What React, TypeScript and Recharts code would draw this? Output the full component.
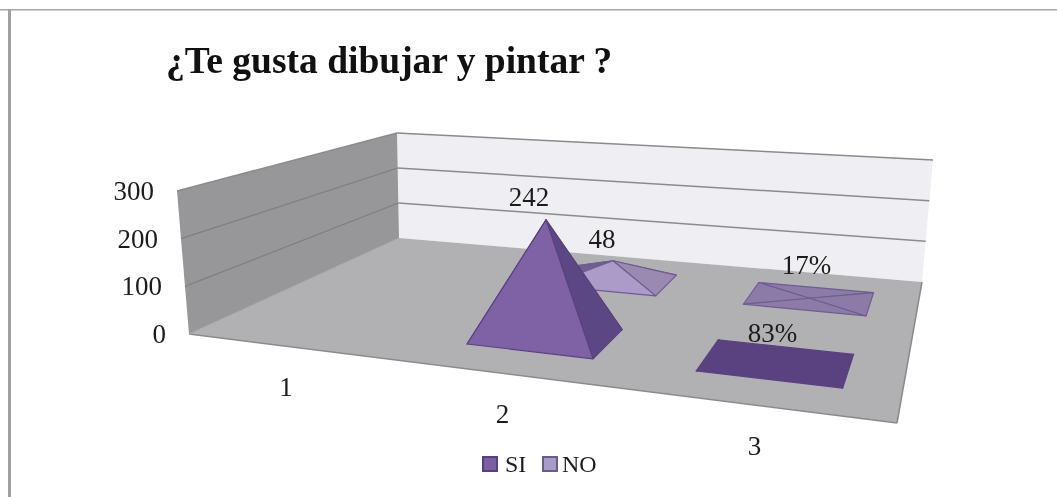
import React from "react";
import { ComposedChart, Bar, XAxis, YAxis, Legend, Customized } from "recharts";

const categories = ["1", "2", "3"];
const siValues = [null, 242, 0.83];
const noValues = [null, 48, 0.17];
const yTicks = [0, 100, 200, 300];
const titleText = "¿Te gusta dibujar y pintar ?";
const siName = "SI";
const noName = "NO";

const rows = categories.map((c, i) => ({ cat: c, si: siValues[i], no: noValues[i] }));

// layout of the pseudo 3D box
const W = 1057, H = 497;
const L = 189, PW = 708, TOP = 191, PH = 143;
const FL = [189, 334], FR = [897, 423], BR = [922, 282], BL = [399, 238];
const TL = [177, 191], TB = [397, 133], TR = [933, 160];
const FONT = "'Liberation Serif', serif";
const INK = "#1c1c1c";

// unit square -> floor quad (perspective)
const sq = (() => {
  const [x0, y0] = FL, [x1, y1] = FR, [x2, y2] = BR, [x3, y3] = BL;
  const dx1 = x1 - x2, dx2 = x3 - x2, sx = x0 - x1 + x2 - x3;
  const dy1 = y1 - y2, dy2 = y3 - y2, sy = y0 - y1 + y2 - y3;
  const den = dx1 * dy2 - dx2 * dy1;
  const g = (sx * dy2 - dx2 * sy) / den, h = (dx1 * sy - sx * dy1) / den;
  return { a: x1 - x0 + g * x1, b: x3 - x0 + h * x3, c: x0, d: y1 - y0 + g * y1, e: y3 - y0 + h * y3, f: y0, g, h };
})();
const weight = (u: number, v: number) => sq.g * u + sq.h * v + 1;
const project = (u: number, v: number) => {
  const w = weight(u, v);
  return [(sq.a * u + sq.b * v + sq.c) / w, (sq.d * u + sq.e * v + sq.f) / w];
};
const DV = 0.105;
const pts = (list: number[][]) => list.map((p) => p.join(",")).join(" ");
const mix = (a: number[], b: number[], t: number) => [a[0] + (b[0] - a[0]) * t, a[1] + (b[1] - a[1]) * t];

function pyramid(depth: number, colors: any) {
  return (props: any) => {
    const { x, width, height } = props;
    if (!height && height !== 0) return <g />;
    const u = (x + width / 2 - L) / PW;
    const du = width / 2 / PW;
    const fl = project(u - du, depth - DV), fr = project(u + du, depth - DV);
    const br = project(u + du, depth + DV), bl = project(u - du, depth + DV);
    const c = project(u, depth);
    const h = height / weight(u, depth);
    const apex = [c[0], c[1] - h];
    const flat = h < 3;
    const f = (col: string) => (flat ? colors.flat : col);
    const common = { stroke: colors.edge, strokeWidth: 1.2, strokeLinejoin: "round" as const };
    return (
      <g>
        <polygon points={pts([bl, br, apex])} fill={f(colors.left)} {...common} />
        <polygon points={pts([fl, bl, apex])} fill={f(colors.left)} {...common} />
        <polygon points={pts([fr, br, apex])} fill={f(colors.right)} {...common} />
        <polygon points={pts([fl, fr, apex])} fill={f(colors.front)} {...common} />
      </g>
    );
  };
}

const siColors = { front: "#7F61A6", right: "#5B4783", left: "#5B4783", flat: "#5A4280", edge: "#5A4280" };
const noColors = { front: "#AB9BC8", right: "#9A89B0", left: "#6F5E90", flat: "#8C7BA6", edge: "#6E5D92" };

const labelNudge: Record<string, number[][]> = {
  si: [[0, 0], [-17, -23], [-4, -29]],
  no: [[0, 0], [-11, -22], [-3, -33]],
};
const fmt = (v: number) => (v < 1 ? `${Math.round(v * 100)}%` : `${v}`);

function dataLabel(depth: number, key: string) {
  return (props: any) => {
    const { x, width, height, value } = props;
    if (value == null) return <g />;
    const u = (x + width / 2 - L) / PW;
    const c = project(u, depth);
    const h = height / weight(u, depth);
    const catIndex = Math.floor(u * categories.length);
    const [dx, dy] = labelNudge[key][catIndex];
    return (
      <text x={c[0] + dx} y={c[1] - h + dy} textAnchor="middle" dominantBaseline="central" fontFamily={FONT} fontSize={27} fill={INK}>
        {fmt(value)}
      </text>
    );
  };
}

function Scene() {
  const grid = yTicks.filter((t) => t > 0).slice(0, -1).map((t) => t / yTicks[yTicks.length - 1]);
  const line = { stroke: "#8B8A8E", strokeWidth: 1.5 };
  return (
    <g>
      <rect x={0} y={9} width={W} height={1.5} fill="#A6A6A6" />
      <rect x={8} y={9} width={3} height={H - 9} fill="#A0A0A0" />
      <text x={166} y={73} fontFamily={FONT} fontWeight="bold" fontSize={37.5} fill="#111">{titleText}</text>
      <polygon points={pts([TB, TR, BR, BL])} fill="#EFEEF3" />
      <polygon points={pts([TL, TB, BL, FL])} fill="#979699" />
      <polygon points={pts([FL, FR, BR, BL])} fill="#B1B0B3" />
      <line x1={TL[0]} y1={TL[1]} x2={TB[0]} y2={TB[1]} {...line} />
      <line x1={TB[0]} y1={TB[1]} x2={TR[0]} y2={TR[1]} {...line} />
      {grid.map((t) => {
        const a = mix(FL, TL, t), b = mix(BL, TB, t), c = mix(BR, TR, t);
        return (
          <g key={t}>
            <line x1={a[0]} y1={a[1]} x2={b[0]} y2={b[1]} stroke="#7F7E82" strokeWidth={1.2} />
            <line x1={b[0]} y1={b[1]} x2={c[0]} y2={c[1]} {...line} />
          </g>
        );
      })}
      <line x1={FL[0]} y1={FL[1]} x2={FR[0]} y2={FR[1]} {...line} />
      <line x1={FR[0]} y1={FR[1]} x2={BR[0]} y2={BR[1]} {...line} />
      <line x1={FL[0]} y1={FL[1]} x2={BL[0]} y2={BL[1]} stroke="#A5A4A7" strokeWidth={1} />
    </g>
  );
}

const YTick = (props: any) => {
  const { y, payload } = props;
  const t = (TOP + PH - y) / PH;
  const wallX = FL[0] + (TL[0] - FL[0]) * t;
  return (
    <text x={wallX - 23} y={y} textAnchor="end" dominantBaseline="central" fontFamily={FONT} fontSize={27} fill={INK}>
      {payload.value}
    </text>
  );
};

const XTick = (props: any) => {
  const { payload } = props;
  const u = (payload.coordinate - L) / PW;
  const p = project(u, 0);
  return (
    <text x={p[0]} y={p[1] + 41} textAnchor="middle" dominantBaseline="central" fontFamily={FONT} fontSize={27} fill={INK}>
      {payload.value}
    </text>
  );
};

const legendItems = [
  { name: siName, fill: "#7A5EA0", edge: "#553F7E", left: 0, textLeft: 23 },
  { name: noName, fill: "#A99BC8", edge: "#6A5A90", left: 60, textLeft: 80 },
];
const LegendBox = () => (
  <div style={{ position: "relative", height: 24, width: 130, fontFamily: FONT, fontSize: 24, color: INK, lineHeight: "24px" }}>
    {legendItems.map((it) => (
      <React.Fragment key={it.name}>
        <span style={{ position: "absolute", left: it.left, top: 4, width: 12, height: 12, background: it.fill, border: `2px solid ${it.edge}` }} />
        <span style={{ position: "absolute", left: it.textLeft, top: 0 }}>{it.name}</span>
      </React.Fragment>
    ))}
  </div>
);

export default function App() {
  return (
    <div style={{ position: "absolute", left: 0, top: 0, width: W, height: H, background: "#fff", filter: "blur(0.5px)" }}>
      <ComposedChart
        width={W}
        height={H}
        data={rows}
        margin={{ top: TOP, left: L - 60, right: W - L - PW, bottom: 109 }}
        barSize={134}
        barGap={-134}
      >
        <Customized component={<Scene />} />
        <XAxis dataKey="cat" height={30} axisLine={false} tickLine={false} tick={<XTick />} interval={0} />
        <YAxis width={60} domain={[0, 300]} ticks={yTicks} axisLine={false} tickLine={false} tick={<YTick />} interval={0} />
        <Bar dataKey="no" name={noName} isAnimationActive={false} shape={pyramid(0.75, noColors)} label={dataLabel(0.75, "no")} />
        <Bar dataKey="si" name={siName} isAnimationActive={false} shape={pyramid(0.25, siColors)} label={dataLabel(0.25, "si")} />
        <Legend content={<LegendBox />} wrapperStyle={{ position: "absolute", left: 482, top: 452, bottom: "auto", width: 130, height: 24 }} />
      </ComposedChart>
    </div>
  );
}
